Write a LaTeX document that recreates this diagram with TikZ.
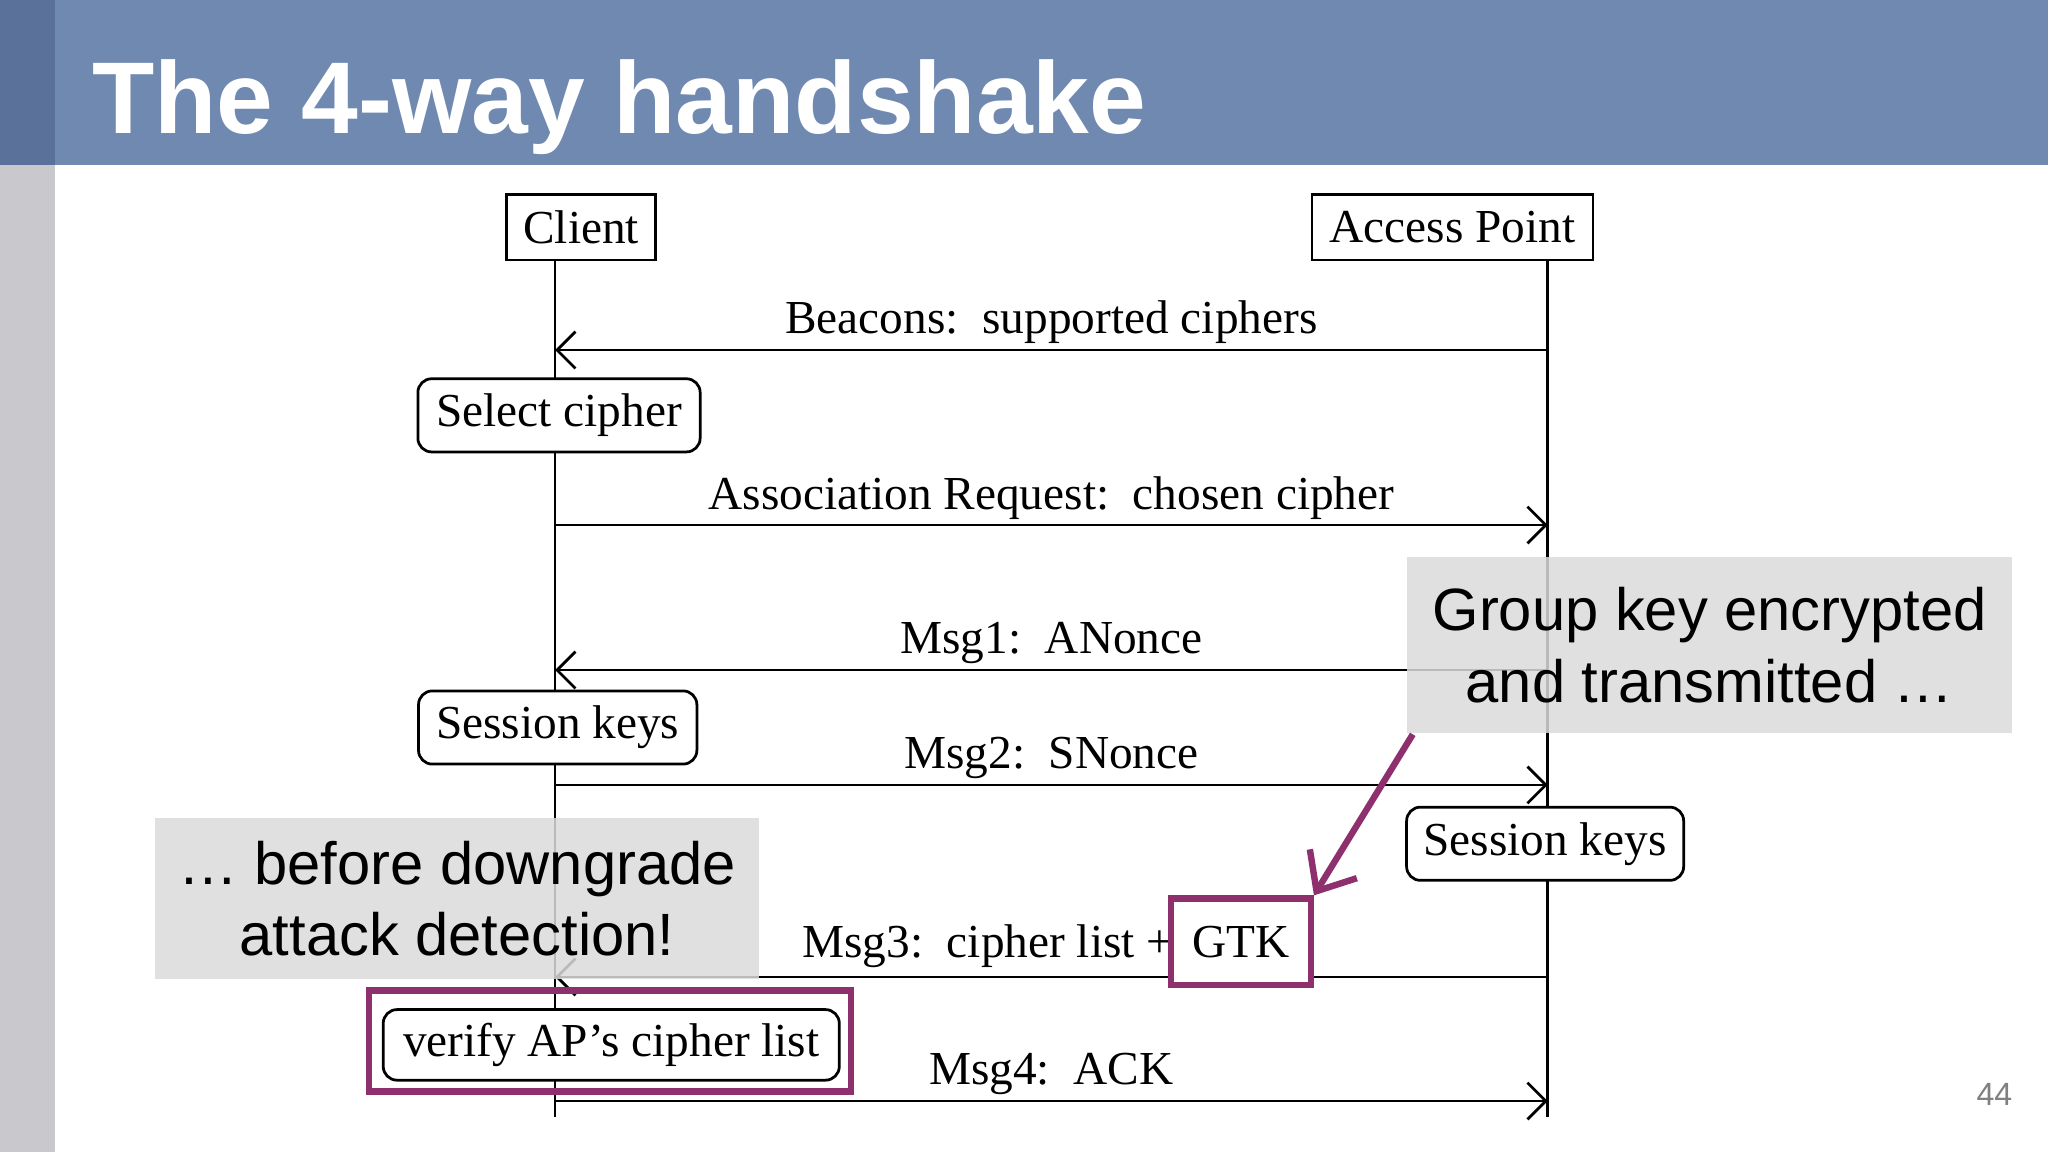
\documentclass[tikz,border=0pt]{standalone}
\usepackage{fontspec}
\setmainfont{Liberation Serif}
\newfontfamily\sansf{Liberation Sans}
\usetikzlibrary{arrows.meta}
\definecolor{bar}{HTML}{7089B0}
\definecolor{bardark}{HTML}{5A7299}
\definecolor{side}{HTML}{C9C9CD}
\definecolor{purp}{HTML}{8E2F6E}
\begin{document}
\begin{tikzpicture}[x=0.01cm,y=-0.01cm,
  lab/.style={font=\fontsize{10.3}{12}\selectfont,inner sep=0pt},
  actor/.style={draw,line width=0.6pt,lab,minimum height=0.5cm},
  act/.style={draw,line width=0.6pt,rounded corners=3pt,lab,minimum height=0.56cm},
  msg/.style={line width=0.6pt,-{Straight Barb[length=4pt,width=8pt]}},
  life/.style={line width=0.6pt},
  note/.style={fill=gray!28,fill opacity=0.85,text opacity=1,font=\sansf\fontsize{13}{15.5}\selectfont,align=center,inner sep=0pt},
  hl/.style={draw=purp,line width=1.4pt}]
\useasboundingbox (0,0) rectangle (1568,882);
\fill[white] (0,0) rectangle (1568,882);
\fill[bar] (0,0) rectangle (1568,126);
\fill[bardark] (0,0) rectangle (42,126);
\fill[side] (0,126) rectangle (42,882);
\node[anchor=base west,text=white,font=\sansf\bfseries\fontsize{22.2}{26}\selectfont,inner sep=0pt] (title) at (70,102) {The 4-way handshake};
\node[actor,minimum width=1.14cm] (client) at (445,174) {Client};
\node[actor,minimum width=2.15cm] (ap) at (1112,174) {Access Point};
\coordinate (cbot) at (425,855); \coordinate (abot) at (1185,855);
\coordinate (ctop) at (425,199); \coordinate (atop) at (1185,199);
\draw[life] (ctop) -- (cbot); \draw[life] (atop) -- (abot);
\coordinate (b1) at (1185,268); \coordinate (b2) at (425,268);
\draw[msg] (b1) -- node[lab,above=1pt] (lb) {Beacons:\, supported ciphers} (b2);
\node[act,fill=white,minimum width=2.16cm] (sel) at (428,318) {Select cipher};
\coordinate (a1) at (425,402); \coordinate (a2) at (1185,402);
\draw[msg] (a1) -- node[lab,above=1pt] (la) {Association Request:\, chosen cipher} (a2);
\coordinate (m1a) at (1185,513); \coordinate (m1b) at (425,513);
\draw[msg] (m1a) -- node[lab,above=1pt] (l1) {Msg1:\, ANonce} (m1b);
\node[act,fill=white,minimum width=2.13cm] (sk1) at (427,557) {Session keys};
\coordinate (m2a) at (425,601); \coordinate (m2b) at (1185,601);
\draw[msg] (m2a) -- node[lab,above=1pt] (l2) {Msg2:\, SNonce} (m2b);
\node[act,fill=white,minimum width=2.12cm] (sk2) at (1183,646) {Session keys};
\coordinate (m3a) at (1185,748); \coordinate (m3b) at (425,748);
\draw[msg] (m3a) -- (m3b);
\node[lab,anchor=base east] (l3) at (899,733) {Msg3:\, cipher list +};
\node[lab,fill=white,minimum width=1.07cm,minimum height=0.66cm,hl] (gtk) at (950,721) {GTK};
\node[hl,minimum width=3.69cm,minimum height=0.77cm,inner sep=0pt] (vh) at (467,797) {};
\node[act,minimum width=3.49cm,minimum height=0.54cm,fill=white] (ver) at (468,800) {verify AP's cipher list};
\coordinate (m4a) at (425,843); \coordinate (m4b) at (1185,843);
\draw[msg] (m4a) -- node[lab,above=1pt] (l4) {Msg4:\, ACK} (m4b);
\node[note,minimum width=4.63cm,minimum height=1.35cm] (n1) at (1309,494) {Group key encrypted\\ and transmitted \dots};
\node[note,minimum width=4.62cm,minimum height=1.23cm] (n2) at (350,688) {\dots\ before downgrade\\ attack detection!};
\draw[purp,line width=1.4pt,-{Straight Barb[length=7pt,width=12pt]}] (n1.south west)++(5,0) -- (gtk.north east);
\node[text=gray,font=\sansf\fontsize{7}{8}\selectfont] (pg) at (1527,838) {44};
\end{tikzpicture}
\end{document}
